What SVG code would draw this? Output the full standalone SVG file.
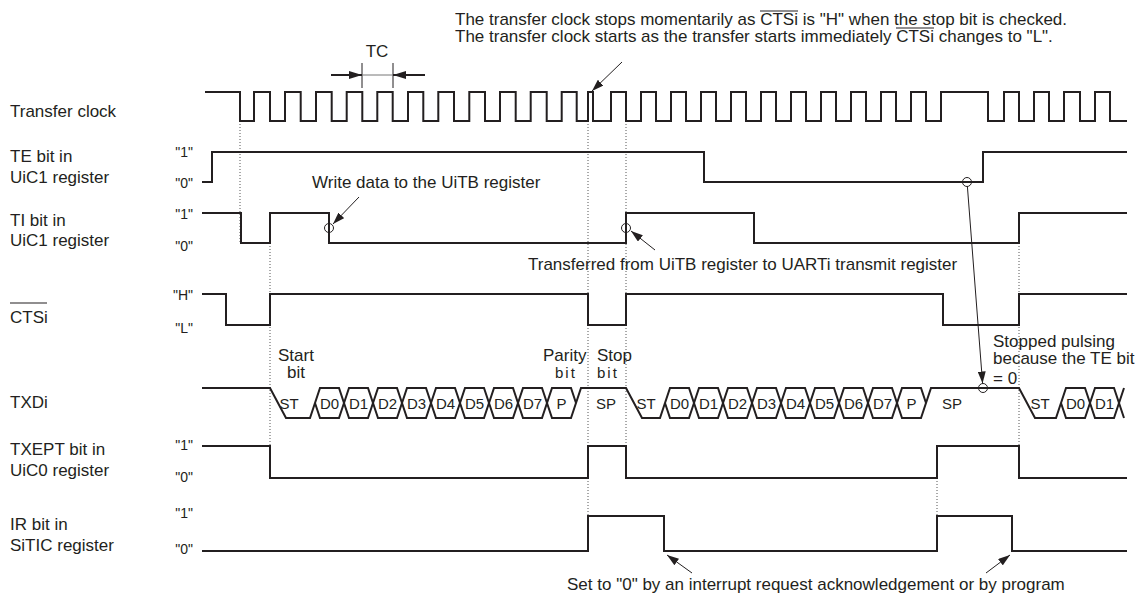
<svg xmlns="http://www.w3.org/2000/svg" width="1137" height="595" viewBox="0 0 1137 595">
<defs>
<style>
.w{fill:none;stroke:#231f20;stroke-width:2;stroke-linejoin:miter}
.d{fill:none;stroke:#555;stroke-width:1;stroke-dasharray:1 2}
.t{font-family:"Liberation Sans",Arial,sans-serif;font-size:17px;fill:#231f20}
.lv{font-size:14px;text-anchor:end}
.bus{font-size:15px;text-anchor:middle}
.sp{font-size:15px;letter-spacing:2px}
.c{fill:none;stroke:#231f20;stroke-width:1}
.a{fill:none;stroke:#231f20;stroke-width:1;marker-end:url(#ah)}
.a2{fill:none;stroke:#231f20;stroke-width:2;marker-end:url(#ah2)}
.ol{stroke:#231f20;stroke-width:1.2}
</style>
<marker id="ah" viewBox="0 0 12 8" markerWidth="12" markerHeight="8" refX="12" refY="4" orient="auto" markerUnits="userSpaceOnUse"><path d="M0,0 L12,4 L0,8 z" fill="#231f20"/></marker>
<marker id="ah2" viewBox="0 0 13 8" markerWidth="13" markerHeight="8" refX="13" refY="4" orient="auto" markerUnits="userSpaceOnUse"><path d="M0,0 L13,4 L0,8 z" fill="#231f20"/></marker>
</defs>
<rect width="1137" height="595" fill="#fff"/>

<g id="annotation-top" class="t">
<text x="455" y="25">The transfer clock stops momentarily as CTSi is "H" when the stop bit is checked.</text>
<text x="455" y="42">The transfer clock starts as the transfer starts immediately CTSi changes to "L".</text>
<line class="ol" x1="760" y1="11" x2="798" y2="11"/>
<line class="ol" x1="896" y1="28" x2="934" y2="28"/>
</g>

<g id="tc-marker">
<text class="t" x="377" y="57" text-anchor="middle" font-size="18">TC</text>
<line x1="362" y1="63" x2="362" y2="88" stroke="#231f20" stroke-width="1"/>
<line x1="393" y1="63" x2="393" y2="88" stroke="#231f20" stroke-width="1"/>
<line x1="362" y1="75" x2="393" y2="75" stroke="#777" stroke-width="1"/>
<line class="a2" x1="331" y1="75" x2="362" y2="75"/>
<line class="a2" x1="425" y1="75" x2="393" y2="75"/>
</g>

<g id="dotted-guides">
<line class="d" x1="240" y1="121" x2="240" y2="243"/>
<line class="d" x1="270" y1="243" x2="270" y2="446"/>
<line class="d" x1="588" y1="121" x2="588" y2="516"/>
<line class="d" x1="626" y1="121" x2="626" y2="446"/>
<line class="d" x1="1019" y1="243" x2="1019" y2="446"/>
<line class="d" x1="937" y1="478" x2="937" y2="516"/>
</g>

<g id="transfer-clock">
<text class="t" x="10" y="117">Transfer clock</text>
<path class="w" d="M205,92 H240 V121 H254 V92 H270 V121 H285 V92 H300.7 V121 H316 V92 H331.7 V121 H346.7 V92 H362.3 V121 H377.3 V92 H392.7 V121 H408 V92 H423.3 V121 H438.3 V92 H454 V121 H469.3 V92 H485 V121 H500 V92 H515.7 V121 H530.7 V92 H546.7 V121 H561.7 V92 H576.7 V121 H588 V92 H593 V121 H611 V92 H626 V121 H641 V92 H656 V121 H671 V92 H686 V121 H701 V92 H716 V121 H731 V92 H746 V121 H761 V92 H776 V121 H791 V92 H806 V121 H821 V92 H836 V121 H851 V92 H866 V121 H881 V92 H896 V121 H911 V92 H926 V121 H941 V92 H988 V121 H1004 V92 H1019 V121 H1034 V92 H1049 V121 H1064 V92 H1080 V121 H1095 V92 H1110 V121 H1127"/>
</g>

<g id="te-bit">
<text class="t" x="10" y="162">TE bit in</text>
<text class="t" x="10" y="183">UiC1 register</text>
<text class="t lv" x="193" y="157">"1"</text>
<text class="t lv" x="193" y="188">"0"</text>
<path class="w" d="M202,182 H212 V152 H704 V182 H983 V152 H1127"/>
</g>

<g id="ti-bit">
<text class="t" x="10" y="226">TI bit in</text>
<text class="t" x="10" y="246">UiC1 register</text>
<text class="t lv" x="193" y="219">"1"</text>
<text class="t lv" x="193" y="251">"0"</text>
<path class="w" d="M202,213 H241 V243 H270 V213 H329 V243 H626 V213 H754 V243 H1019 V213 H1127"/>
</g>

<g id="cts">
<text class="t" x="10" y="323">CTSi</text>
<line class="ol" x1="10" y1="303" x2="47" y2="303"/>
<text class="t lv" x="193" y="300">"H"</text>
<text class="t lv" x="193" y="333">"L"</text>
<path class="w" d="M202,294 H226 V325 H270 V294 H588 V325 H626 V294 H943 V325 H1019 V294 H1127"/>
</g>

<g id="txd">
<text class="t" x="10" y="408">TXDi</text>
<text class="t" x="278" y="361">Start</text>
<text class="t" x="287" y="378">bit</text>
<text class="t" x="543" y="361">Parity</text>
<text class="t sp" x="555" y="378">bit</text>
<text class="t" x="597" y="361">Stop</text>
<text class="t sp" x="597" y="378">bit</text>
<path class="w" d="M202,388 H270 L286,418 H310 L320,388 H339 L349,418 H368 L378,388 H397 L407,418 H426 L436,388 H455 L465,418 H484 L494,388 H513 L523,418 H542 L552,388 H571 L576,403"/>
<path class="w" d="M315,403 L320,418 H339 L349,388 H368 L378,418 H397 L407,388 H426 L436,418 H455 L465,388 H484 L494,418 H513 L523,388 H542 L552,418 H571 L581,388 H626 L642,418 H660 L670,388 H689 L699,418 H718 L728,388 H747 L757,418 H776 L786,388 H805 L815,418 H834 L844,388 H863 L873,418 H892 L902,388 H921 L926,403"/>
<path class="w" d="M665,403 L670,418 H689 L699,388 H718 L728,418 H747 L757,388 H776 L786,418 H805 L815,388 H834 L844,418 H863 L873,388 H892 L902,418 H921 L931,388 H1019 L1035,418 H1056 L1066,388 H1085 L1095,418 H1114 L1124,388"/>
<path class="w" d="M1061,403 L1066,418 H1085 L1095,388 H1114 L1124,418"/>
<g class="t bus">
<text x="289" y="409">ST</text><text x="329.5" y="409">D0</text><text x="358.5" y="409">D1</text><text x="387.5" y="409">D2</text><text x="416.5" y="409">D3</text><text x="445.5" y="409">D4</text><text x="474.5" y="409">D5</text><text x="503.5" y="409">D6</text><text x="532.5" y="409">D7</text><text x="561.5" y="409">P</text><text x="606" y="409">SP</text>
<text x="646" y="409">ST</text><text x="679.5" y="409">D0</text><text x="708.5" y="409">D1</text><text x="737.5" y="409">D2</text><text x="766.5" y="409">D3</text><text x="795.5" y="409">D4</text><text x="824.5" y="409">D5</text><text x="853.5" y="409">D6</text><text x="882.5" y="409">D7</text><text x="911.5" y="409">P</text><text x="952" y="409">SP</text>
<text x="1040" y="409">ST</text><text x="1075.5" y="409">D0</text><text x="1104.5" y="409">D1</text>
</g>
<text class="t" x="993" y="347">Stopped pulsing</text>
<text class="t" x="993" y="364">because the TE bit</text>
<text class="t" x="993" y="384" font-size="16">= 0</text>
</g>

<g id="txept-bit">
<text class="t" x="10" y="455">TXEPT bit in</text>
<text class="t" x="10" y="476">UiC0 register</text>
<text class="t lv" x="193" y="450">"1"</text>
<text class="t lv" x="193" y="482">"0"</text>
<path class="w" d="M202,446 H270 V478 H588 V446 H626 V478 H937 V446 H1019 V478 H1127"/>
</g>

<g id="ir-bit">
<text class="t" x="10" y="530">IR bit in</text>
<text class="t" x="10" y="551">SiTIC register</text>
<text class="t lv" x="193" y="518">"1"</text>
<text class="t lv" x="193" y="554">"0"</text>
<path class="w" d="M202,551 H588 V516 H664 V551 H937 V516 H1012 V551 H1127"/>
</g>

<g id="notes" class="t">
<text x="312" y="188">Write data to the UiTB register</text>
<text x="528" y="270">Transferred from UiTB register to UARTi transmit register</text>
<text x="567" y="590">Set to "0" by an interrupt request acknowledgement or by program</text>
</g>

<g id="connectors">
<circle class="c" cx="329" cy="228" r="4.5"/>
<circle class="c" cx="626" cy="228" r="4.5"/>
<circle class="c" cx="967" cy="182" r="4.5"/>
<circle class="c" cx="983" cy="388" r="4.5"/>
<line class="a" x1="622" y1="62" x2="592" y2="91"/>
<line class="a" x1="359" y1="197" x2="333" y2="224"/>
<line class="a" x1="655" y1="250" x2="631" y2="231"/>
<line class="a" x1="967.4" y1="186.5" x2="982.6" y2="383.5"/>
<line class="a" x1="692" y1="573" x2="667" y2="555"/>
<line class="a" x1="986" y1="573" x2="1010" y2="555"/>
</g>
</svg>
